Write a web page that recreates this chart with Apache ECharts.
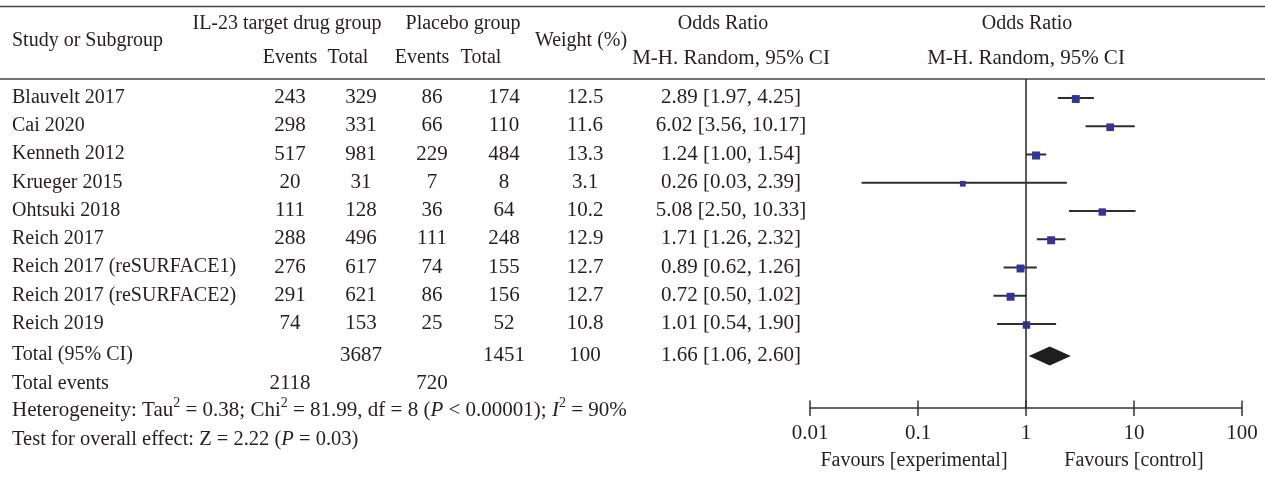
<!DOCTYPE html>
<html><head><meta charset="utf-8">
<script src="https://cdn.jsdelivr.net/npm/echarts@6/dist/echarts.min.js"></script>
<style>html,body{margin:0;padding:0;background:#fff}#c{width:1265px;height:481px}</style>
</head><body><div id="c"></div><script>
// ---- data ----
const studies = ['Blauvelt 2017','Cai 2020','Kenneth 2012','Krueger 2015','Ohtsuki 2018','Reich 2017','Reich 2017 (reSURFACE1)','Reich 2017 (reSURFACE2)','Reich 2019'];
const expEvents = [243,298,517,20,111,288,276,291,74];
const expTotal  = [329,331,981,31,128,496,617,621,153];
const ctlEvents = [86,66,229,7,36,111,74,86,25];
const ctlTotal  = [174,110,484,8,64,248,155,156,52];
const weights   = [12.5,11.6,13.3,3.1,10.2,12.9,12.7,12.7,10.8];
const oddsRatio = [2.89,6.02,1.24,0.26,5.08,1.71,0.89,0.72,1.01];
const ciLow     = [1.97,3.56,1.00,0.03,2.50,1.26,0.62,0.50,0.54];
const ciHigh    = [4.25,10.17,1.54,2.39,10.33,2.32,1.26,1.02,1.90];
const totalExpN = 3687, totalCtlN = 1451, totalWeight = 100;
const totalExpEvents = 2118, totalCtlEvents = 720;
const totalOR = 1.66, totalLow = 1.06, totalHigh = 2.60;
const xTicks = [0.01, 0.1, 1, 10, 100];
const heterogeneity = 'Heterogeneity: Tau{sup|2} = 0.38; Chi{sup|2} = 81.99, df = 8 ({it|P} < 0.00001); {it|I}{sup|2} = 90%';
const overall = 'Test for overall effect: Z = 2.22 ({it|P} = 0.03)';

// ---- chart ----
const FONT = "'Liberation Serif','Times New Roman',serif";
const FS = 20, FN = 21, INK = '#231f20', LINE = '#333333';
const chart = echarts.init(document.getElementById('c'));
const TOTAL_ROW = 9.1;
const fmt = v => String(Number(Number(v).toPrecision(3)));

chart.setOption({
  animation:false,
  backgroundColor:'#fff',
  grid:{left:810, right:23, top:79, bottom:73, containLabel:false},
  xAxis:[
    {type:'log', logBase:10, min:0.01, max:100, position:'bottom',
     axisLine:{show:true, onZero:false, lineStyle:{color:LINE, width:1.5}},
     axisTick:{show:true, inside:false, length:8, lineStyle:{color:LINE, width:1.5}},
     minorTick:{show:false}, splitLine:{show:false},
     axisLabel:{show:true, margin:15, fontFamily:FONT, fontSize:FN, color:INK, showMinLabel:true, showMaxLabel:true, formatter:fmt}},
    {type:'log', logBase:10, min:0.01, max:100, position:'bottom',
     axisLine:{show:false, onZero:false},
     axisTick:{show:true, inside:true, length:7.5, lineStyle:{color:LINE, width:1.5}},
     minorTick:{show:false}, splitLine:{show:false}, axisLabel:{show:false}}
  ],
  yAxis:{type:'value', min:-0.708, max:10.938, inverse:true, show:false},
  series:[
    {type:'custom', name:'ci', xAxisIndex:0, z:2,
     data: studies.map((s,i)=>[ciLow[i], ciHigh[i], i]),
     encode:{x:[0,1], y:2},
     renderItem:(params, api)=>{
       const a = api.coord([api.value(0), api.value(2)]);
       const b = api.coord([api.value(1), api.value(2)]);
       return {type:'line', shape:{x1:a[0], y1:a[1]-1, x2:b[0], y2:b[1]-1}, style:{stroke:'#2e2e2e', lineWidth:2}};
     }},
    {type:'scatter', name:'or', xAxisIndex:0, z:3, symbol:'rect',
     data: studies.map((s,i)=>[oddsRatio[i], i, weights[i]]),
     symbolSize: v => 5 + v[2]*0.23,
     itemStyle:{color:'#333399', opacity:1},
     markLine:{silent:true, symbol:['none','none'], label:{show:false},
       lineStyle:{color:LINE, width:1.6, type:'solid'}, data:[{xAxis:1}]}},
    {type:'custom', name:'total', xAxisIndex:0, z:3,
     data:[[totalLow, totalOR, totalHigh, TOTAL_ROW]],
     encode:{x:[0,1,2], y:3},
     renderItem:(params, api)=>{
       const l = api.coord([api.value(0), api.value(3)]);
       const m = api.coord([api.value(1), api.value(3)]);
       const h = api.coord([api.value(2), api.value(3)]);
       const hh = 9.5;
       return {type:'polygon', shape:{points:[[l[0],l[1]],[m[0],m[1]-hh],[h[0],h[1]],[m[0],m[1]+hh]]}, style:{fill:'#1e1e1e'}};
     }}
  ]
});

// ---- table text ----
const y0 = chart.convertToPixel({yAxisIndex:0}, 0);
const dy = chart.convertToPixel({yAxisIndex:0}, 1) - y0;
const rowY = r => r < 9 ? y0 + dy*r - 1.5 : y0 + dy*(r + 0.1) - 1;
function txt(text, x, y, align, size, extra){
  return {type:'text', x:x, y:y, silent:true, z:10,
    style:Object.assign({text:text, fill:INK, fontFamily:FONT, fontSize:size||FS, align:align||'center', verticalAlign:'middle'}, extra||{})};
}
const rich = {
  sup:{fontFamily:FONT, fontSize:14, fill:INK, padding:[0,0,14,0]},
  it:{fontFamily:FONT, fontSize:FN, fill:INK, fontStyle:'italic'}
};
const rich2 = {
  sup:{fontFamily:FONT, fontSize:14, fill:INK, padding:[0,0,14,0]},
  it:{fontFamily:FONT, fontSize:20.5, fill:INK, fontStyle:'italic'}
};
const C = {name:12, e1:290, t1:361, e2:432, t2:504, w:585, or:731};
const g = [];
g.push({type:'line', silent:true, shape:{x1:0,y1:6.5,x2:1265,y2:6.5}, style:{stroke:'#444', lineWidth:1.5}});
g.push({type:'line', silent:true, shape:{x1:0,y1:79,x2:1265,y2:79}, style:{stroke:'#444', lineWidth:1.5}});
g.push(txt('Study or Subgroup', C.name, 41, 'left'));
g.push(txt('IL-23 target drug group', 287, 24));
g.push(txt('Placebo group', 463, 24));
g.push(txt('Events', 290, 58));
g.push(txt('Total', 348, 58));
g.push(txt('Events', 422, 58));
g.push(txt('Total', 481, 58));
g.push(txt('Weight (%)', 581, 41));
g.push(txt('Odds Ratio', 723, 24));
g.push(txt('M-H. Random, 95% CI', 731, 58, 'center', FN));
g.push(txt('Odds Ratio', 1027, 24));
g.push(txt('M-H. Random, 95% CI', 1026, 58, 'center', FN));
studies.forEach((s,i)=>{
  const y = rowY(i);
  g.push(txt(s, C.name, y, 'left'));
  g.push(txt(String(expEvents[i]), C.e1, y, 'center', FN));
  g.push(txt(String(expTotal[i]), C.t1, y, 'center', FN));
  g.push(txt(String(ctlEvents[i]), C.e2, y, 'center', FN));
  g.push(txt(String(ctlTotal[i]), C.t2, y, 'center', FN));
  g.push(txt(weights[i].toFixed(1), C.w, y, 'center', FN));
  g.push(txt(oddsRatio[i].toFixed(2)+' ['+ciLow[i].toFixed(2)+', '+ciHigh[i].toFixed(2)+']', C.or, y, 'center', FN));
});
const yT = rowY(9);
g.push(txt('Total (95% CI)', C.name, yT, 'left'));
g.push(txt(String(totalExpN), C.t1, yT, 'center', FN));
g.push(txt(String(totalCtlN), C.t2, yT, 'center', FN));
g.push(txt(String(totalWeight), C.w, yT, 'center', FN));
g.push(txt(totalOR.toFixed(2)+' ['+totalLow.toFixed(2)+', '+totalHigh.toFixed(2)+']', C.or, yT, 'center', FN));
const yE = rowY(10);
g.push(txt('Total events', C.name, yE, 'left'));
g.push(txt(String(totalExpEvents), C.e1, yE, 'center', FN));
g.push(txt(String(totalCtlEvents), C.e2, yE, 'center', FN));
g.push(txt(heterogeneity, C.name, rowY(11) - 1.5, 'left', FN, {rich:rich}));
g.push(txt(overall, C.name, rowY(12) - 0.5, 'left', 20.5, {rich:rich2}));
const xl = chart.convertToPixel({xAxisIndex:0}, 0.1);
const xr = chart.convertToPixel({xAxisIndex:0}, 10);
g.push(txt('Favours [experimental]', xl-4, 461));
g.push(txt('Favours [control]', xr, 461));
chart.setOption({graphic:{elements:g}});
</script></body></html>
